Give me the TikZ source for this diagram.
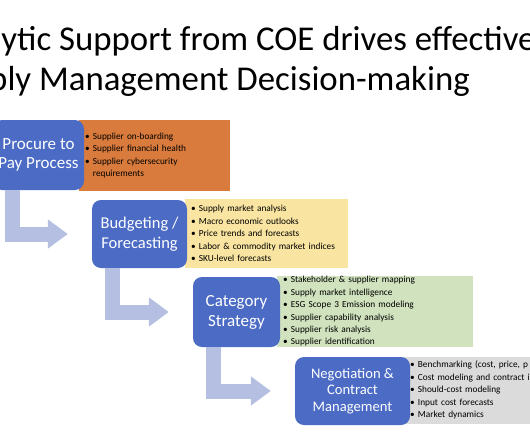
\documentclass[tikz,border=0pt]{standalone}
\usepackage{fontspec}
\setmainfont{Carlito}
\usepackage{xcolor}
\definecolor{brand}{HTML}{4B6BC5}
\definecolor{flow}{HTML}{B5BFE1}
\definecolor{ptpfill}{HTML}{D97B3C}
\definecolor{budgetfill}{HTML}{F9E5A1}
\definecolor{catfill}{HTML}{D0E2BE}
\definecolor{negofill}{HTML}{DBDBDB}
\usepackage{tikz}
\usetikzlibrary{arrows.meta, positioning, calc}
\newcommand{\itm}{\textbullet\ }
\newcommand{\itmgap}{\phantom{\textbullet}\ }

\begin{document}
\begin{tikzpicture}[
  x=1pt, y=-1pt,
  title/.style={font=\fontsize{34.8}{41}\selectfont, inner sep=0pt},
  stage/.style={fill=brand, text=white, rounded corners=9pt, align=center, inner sep=0pt},
  notes/.style={anchor=west, align=left, inner ysep=0pt, inner xsep=6pt, text=black,
                font=\fontsize{9.3}{12.4}\selectfont},
  flowarrow/.style={draw=flow, line width=15pt, -{Triangle[length=20pt, width=28pt]},
                    shorten >=24pt},
]
\useasboundingbox (0,0) rectangle (530,442);
\clip (0,0) rectangle (530,442);

% Title
\node[title, anchor=base west] (headA) at (-62,50) {Analytic Support from COE drives effective};
\node[title, anchor=base east] (headB) at (470,90) {Supply Management Decision-making};

% Detail panels (behind the stages)
\node[notes, fill=ptpfill, text width=139pt, minimum height=71pt] (ptpnotes) at (79,155.5)
  {\itm Supplier on-boarding\\ \itm Supplier financial health\\ \itm Supplier cybersecurity\\ \itmgap requirements};
\node[notes, fill=budgetfill, text width=151pt, minimum height=69pt] (budgetnotes) at (185,233.5)
  {\itm Supply market analysis\\ \itm Macro economic outlooks\\ \itm Price trends and forecasts\\
   \itm Labor \& commodity market indices\\ \itm SKU-level forecasts};
\node[notes, fill=catfill, text width=184pt, minimum height=71pt] (catnotes) at (277,311.5)
  {\itm Stakeholder \& supplier mapping\\ \itm Supply market intelligence\\
   \itm ESG Scope 3 Emission modeling\\ \itm Supplier capability analysis\\
   \itm Supplier risk analysis\\ \itm Supplier identification};
\node[notes, fill=negofill, text width=150pt, minimum height=67pt] (negonotes) at (404,390)
  {\itm Benchmarking (cost, price, p\\ \itm Cost modeling and contract i\\
   \itm Should-cost modeling\\ \itm Input cost forecasts\\ \itm Market dynamics};

% Stages
\node[stage, minimum width=91pt, minimum height=70pt, font=\fontsize{17}{19}\selectfont]
  (ptp) at (38.5,155) {Procure to\\Pay Process};
\node[stage, minimum width=95pt, minimum height=68pt, font=\fontsize{16.5}{19.5}\selectfont]
  (budget) at (139.5,234) {Budgeting /\\Forecasting};
\node[stage, minimum width=87pt, minimum height=70pt, font=\fontsize{17}{20}\selectfont]
  (cat) at (236.5,312) {Category\\Strategy};
\node[stage, minimum width=115pt, minimum height=68pt, font=\fontsize{14.6}{16.5}\selectfont]
  (nego) at (352.5,391) {Negotiation \&\\Contract\\Management};

% Bent arrows between stages
\draw[flowarrow] ($(ptp.south west)+(19.5,0)$) |- (budget.west);
\draw[flowarrow] ($(budget.south west)+(20.5,0)$) |- (cat.west);
\draw[flowarrow] ($(cat.south west)+(20.5,0)$) |- (nego.west);

\end{tikzpicture}
\end{document}
